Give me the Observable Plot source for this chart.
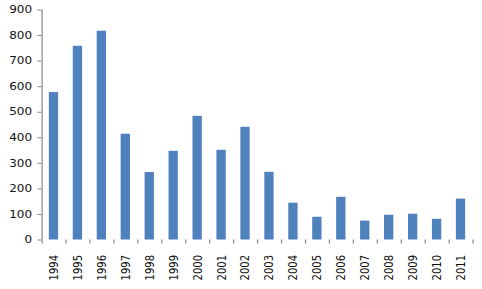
<!DOCTYPE html>
<html><head><meta charset="utf-8">
<script src="https://cdn.jsdelivr.net/npm/d3@7"></script>
<script src="https://cdn.jsdelivr.net/npm/@observablehq/plot@0.6"></script>
<style>body{margin:0;background:#fff}</style>
</head><body><div id="chart"></div>
<script>
const years = ["1994","1995","1996","1997","1998","1999","2000","2001","2002","2003","2004","2005","2006","2007","2008","2009","2010","2011"];
const values = [577,758,817,414,264,347,484,351,441,265,144,89,167,74,97,101,81,160];
const yTicks = [0,100,200,300,400,500,600,700,800,900];

const data = years.map((y, i) => ({year: y, i, value: values[i]}));
const STRETCH = 1.2;
const W = 482, H = 289;
const W0 = W / STRETCH;
const axisColor = "#868686";

const chart = Plot.plot({
  width: W0,
  height: H,
  marginLeft: 41.5 / STRETCH,
  marginRight: W0 - 472.5 / STRETCH,
  marginTop: 9.5,
  marginBottom: 49.5,
  style: {fontFamily: "DejaVu Sans", fontSize: "10px", color: "#000", background: "#fff"},
  x: {domain: [0, years.length], axis: null, label: null},
  y: {domain: [yTicks[0], yTicks[yTicks.length - 1]], axis: null, label: null},
  marks: [
    Plot.rectY(data, {x1: "i", x2: d => d.i + 1, y: "value", fill: "#4F81BD", insetLeft: 6.1, insetRight: 6.1}),
    Plot.ruleX([0], {y1: yTicks[0], y2: yTicks[yTicks.length - 1], stroke: axisColor}),
    Plot.axisY(yTicks, {label: null, tickSize: 3.4, tickPadding: 5, stroke: axisColor, fill: "#111", tickFormat: d => String(d)}),
    Plot.axisX(d3.range(years.length + 1), {label: null, tickSize: 4, tickFormat: () => "", stroke: axisColor}),
    Plot.axisX(d3.range(years.length).map(i => i + 0.5), {label: null, tickSize: 0, tickPadding: 15, tickRotate: -90, fill: "#111", tickFormat: v => years[Math.floor(v)]})
  ]
});
chart.setAttribute("width", W);
chart.setAttribute("viewBox", `0 0 ${W0} ${H}`);
chart.setAttribute("preserveAspectRatio", "none");
chart.style.maxWidth = "none";
document.getElementById("chart").appendChild(chart);
</script>
</body></html>
